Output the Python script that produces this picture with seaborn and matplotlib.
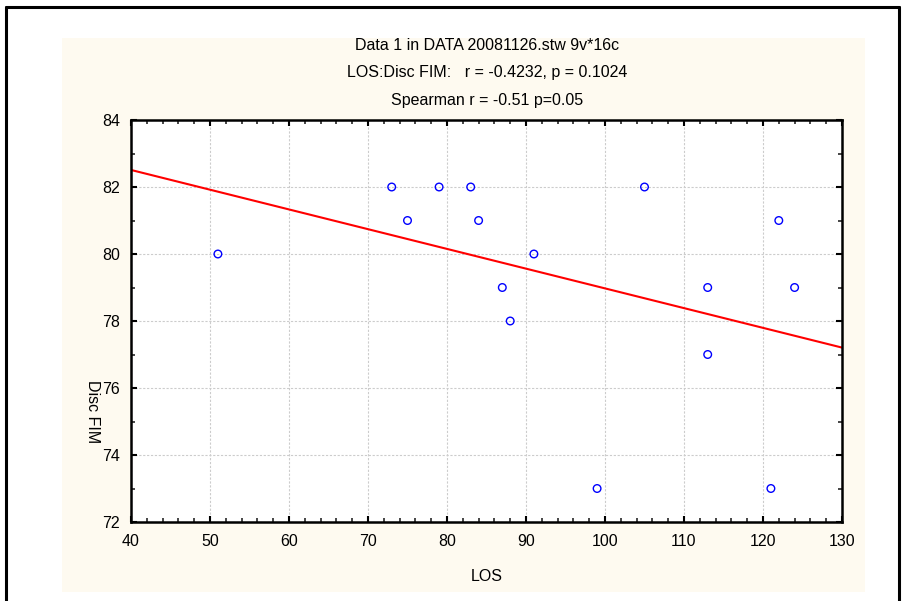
import matplotlib
matplotlib.use("Agg")
import matplotlib.pyplot as plt
import seaborn as sns
import pandas as pd
import numpy as np
from matplotlib.ticker import MultipleLocator
from matplotlib.patches import Rectangle
from matplotlib.lines import Line2D

los = [51, 73, 75, 79, 83, 84, 87, 88, 91, 99, 105, 113, 113, 121, 122, 124]
disc_fim = [80, 82, 81, 82, 82, 81, 79, 78, 80, 73, 82, 79, 77, 73, 81, 79]
title_lines = ["Data 1 in DATA 20081126.stw 9v*16c",
               "LOS:Disc FIM:   r = -0.4232, p = 0.1024",
               "Spearman r = -0.51 p=0.05"]

df = pd.DataFrame({"LOS": los, "Disc FIM": disc_fim})

sns.set_theme(style="white")
plt.rcParams['font.family'] = ['Liberation Sans Narrow', 'Liberation Sans', 'DejaVu Sans']
plt.rcParams['text.color'] = 'black'
plt.rcParams['axes.labelcolor'] = 'black'

W, H = 904, 601
fig = plt.figure(figsize=(W / 100, H / 100), dpi=100)
fig.patch.set_facecolor("white")

# beige panel
fig.patches.append(Rectangle((62 / W, 1 - 592 / H), (865 - 62) / W, (592 - 38) / H,
                             transform=fig.transFigure, facecolor="#fefaf0",
                             edgecolor="none", zorder=-5))
# outer frame
for xs, ys in [((6, 899), (7, 7)), ((6, 6), (7, 601)), ((899, 899), (7, 601))]:
    fig.lines.append(Line2D([x / W for x in xs], [1 - y / H for y in ys],
                            transform=fig.transFigure, color="black", lw=2.2))

ax = fig.add_axes([131 / W, 1 - 522 / H, (842 - 131) / W, (522 - 120) / H])
ax.set_zorder(2)
ax.set_facecolor("white")
ax.set_xlim(40, 130)
ax.set_ylim(72, 84)

sns.scatterplot(data=df, x="LOS", y="Disc FIM", ax=ax, marker="o", s=30,
                facecolor="none", edgecolor="#0000ff", linewidth=1.0, zorder=3)
sns.regplot(data=df, x="LOS", y="Disc FIM", ax=ax, scatter=False, ci=None,
            truncate=False, line_kws=dict(color="#ff0000", lw=1.5, zorder=2))
ax.set_xlim(40, 130)
ax.set_ylim(72, 84)

ax.xaxis.set_major_locator(MultipleLocator(10))
ax.xaxis.set_minor_locator(MultipleLocator(2))
ax.yaxis.set_major_locator(MultipleLocator(2))
ax.yaxis.set_minor_locator(MultipleLocator(1))
ax.grid(True, which="major", color="#cccccc", linestyle=(0, (2, 1.5)), lw=0.8)
ax.tick_params(which="major", direction="in", length=4, width=1.5,
               top=True, right=True, bottom=True, left=True,
               labelsize=11.5, colors="black")
ax.tick_params(axis="x", which="major", pad=9)
ax.tick_params(axis="y", which="major", pad=8)
ax.tick_params(which="minor", direction="in", length=3, width=1.2,
               top=True, right=True, bottom=True, left=True)
for sp in ax.spines.values():
    sp.set_color("black")
    sp.set_linewidth(1.8)

ax.set_xlabel("LOS", fontsize=11.5, labelpad=14, color="black")
ax.set_ylabel("")
fig.text(93 / W, 1 - 412 / H, "Disc FIM", rotation=-90, fontsize=11.5,
         ha="center", va="center", color="black")

for i, t in enumerate(title_lines):
    fig.text(487 / W, 1 - (46 + 27 * i) / H, t, fontsize=11.5,
             ha="center", va="center", color="black")

fig.savefig("out.png", dpi=100)
